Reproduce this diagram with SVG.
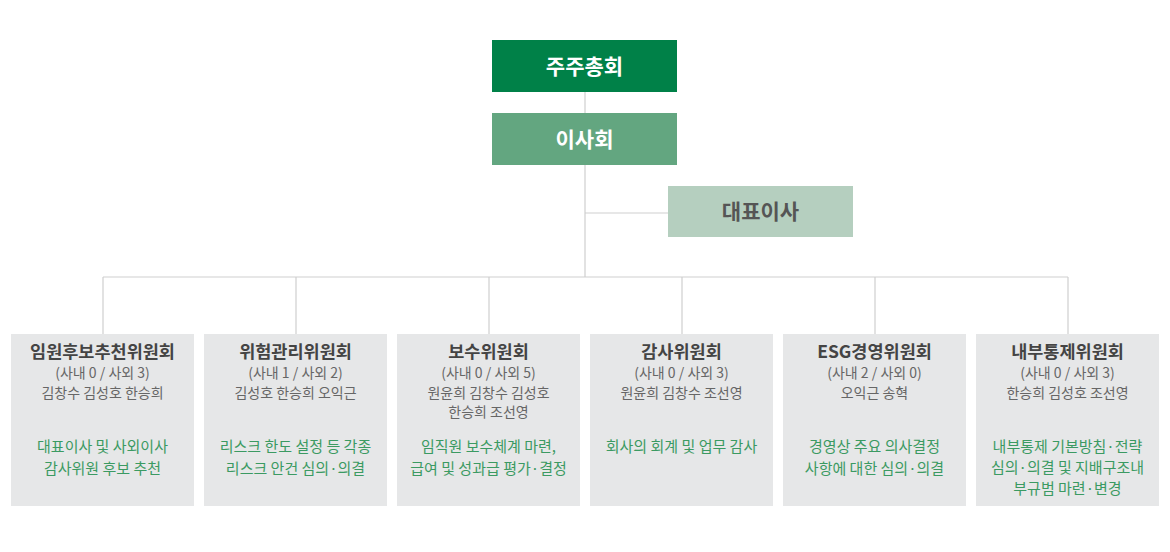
<svg xmlns="http://www.w3.org/2000/svg" width="1170" height="552" viewBox="0 0 1170 552">
<style>
text{font-family:"Noto Sans CJK KR","Noto Sans",sans-serif;text-anchor:middle}
.top{font-size:21px;font-weight:700}
.box{fill:#e6e7e8}
.t{font-size:17.5px;font-weight:700;fill:#444}
.s{font-size:14px;fill:#666}
.d{font-size:15px;fill:#3b9a62}
.ln{stroke:#cfcfcf;stroke-width:1.2;fill:none}
</style>
<rect width="1170" height="552" fill="#fff"/>
<g id="connectors">
<path class="ln" d="M585 92V277M585 213H668M103 277H1068M103 277V334M296 277V334M489 277V334M682 277V334M875 277V334M1068 277V334"/>
</g>
<g id="shareholders">
<rect x="492" y="40" width="185" height="52" fill="#008148"/>
<text class="top" x="584.5" y="73.5" fill="#fff">주주총회</text>
</g>
<g id="board">
<rect x="492" y="113" width="185" height="52" fill="#63a680"/>
<text class="top" x="584.5" y="146.5" fill="#fff">이사회</text>
</g>
<g id="ceo">
<rect x="668" y="186" width="185" height="51" fill="#b5cfbf"/>
<text class="top" x="760.5" y="219" fill="#555">대표이사</text>
</g>
<g id="c1">
<rect class="box" x="11" y="334" width="183" height="172"/>
<text class="t" x="102.5" y="357.5">임원후보추천위원회</text>
<text class="s" x="102.5" y="378">(사내 0 / 사외 3)</text>
<text class="s" x="102.5" y="397.5">김창수 김성호 한승희</text>
<text class="d" x="102.5" y="452">대표이사 및 사외이사</text>
<text class="d" x="102.5" y="474">감사위원 후보 추천</text>
</g>
<g id="c2">
<rect class="box" x="204" y="334" width="183" height="172"/>
<text class="t" x="295.5" y="357.5">위험관리위원회</text>
<text class="s" x="295.5" y="378">(사내 1 / 사외 2)</text>
<text class="s" x="295.5" y="397.5">김성호 한승희 오익근</text>
<text class="d" x="295.5" y="452">리스크 한도 설정 등 각종</text>
<text class="d" x="295.5" y="474">리스크 안건 심의·의결</text>
</g>
<g id="c3">
<rect class="box" x="397" y="334" width="183" height="172"/>
<text class="t" x="488.5" y="357.5">보수위원회</text>
<text class="s" x="488.5" y="378">(사내 0 / 사외 5)</text>
<text class="s" x="488.5" y="397.5">원윤희 김창수 김성호</text>
<text class="s" x="488.5" y="417">한승희 조선영</text>
<text class="d" x="488.5" y="452">임직원 보수체계 마련,</text>
<text class="d" x="488.5" y="474">급여 및 성과급 평가·결정</text>
</g>
<g id="c4">
<rect class="box" x="590" y="334" width="183" height="172"/>
<text class="t" x="681.5" y="357.5">감사위원회</text>
<text class="s" x="681.5" y="378">(사내 0 / 사외 3)</text>
<text class="s" x="681.5" y="397.5">원윤희 김창수 조선영</text>
<text class="d" x="681.5" y="452">회사의 회계 및 업무 감사</text>
</g>
<g id="c5">
<rect class="box" x="783" y="334" width="183" height="172"/>
<text class="t" x="874.5" y="357.5">ESG경영위원회</text>
<text class="s" x="874.5" y="378">(사내 2 / 사외 0)</text>
<text class="s" x="874.5" y="397.5">오익근 송혁</text>
<text class="d" x="874.5" y="452">경영상 주요 의사결정</text>
<text class="d" x="874.5" y="474">사항에 대한 심의·의결</text>
</g>
<g id="c6">
<rect class="box" x="976" y="334" width="183" height="172"/>
<text class="t" x="1067.5" y="357.5">내부통제위원회</text>
<text class="s" x="1067.5" y="378">(사내 0 / 사외 3)</text>
<text class="s" x="1067.5" y="397.5">한승희 김성호 조선영</text>
<text class="d" x="1067.5" y="452">내부통제 기본방침·전략</text>
<text class="d" x="1067.5" y="473">심의·의결 및 지배구조내</text>
<text class="d" x="1067.5" y="494">부규범 마련·변경</text>
</g>
</svg>
